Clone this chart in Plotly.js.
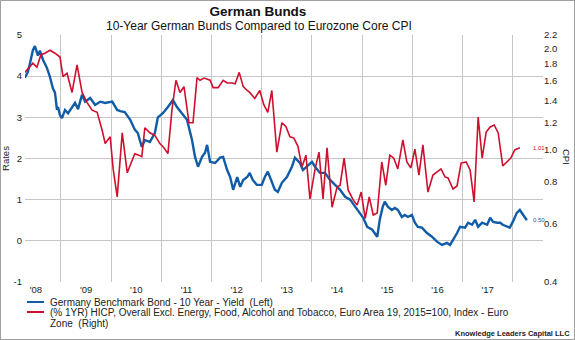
<!DOCTYPE html>
<html>
<head>
<meta charset="utf-8">
<script src="https://cdn.plot.ly/plotly-3.0.1.min.js"></script>
<style>
html,body{margin:0;padding:0;background:#fff;}
#wrap{position:relative;width:575px;height:340px;}
#chart{position:absolute;left:0;top:0;width:575px;height:340px;}
#frame{position:absolute;left:0;top:0;width:575px;height:340px;box-sizing:border-box;border:1px solid #a0a0a0;pointer-events:none;}
</style>
</head>
<body>
<div id="wrap"><div id="chart"></div><div id="frame"></div></div>
<script>
// ---- data (decimal years) ----
const bundYears = [2008.28,2008.34,2008.38,2008.44,2008.48,2008.52,2008.54,2008.58,2008.62,2008.64,2008.68,2008.72,2008.78,2008.84,2008.88,2008.92,2008.94,2008.98,2009.02,2009.08,2009.14,2009.22,2009.28,2009.34,2009.42,2009.48,2009.58,2009.68,2009.78,2009.88,2010.02,2010.12,2010.18,2010.27,2010.38,2010.47,2010.53,2010.61,2010.67,2010.77,2010.87,2010.93,2011.03,2011.13,2011.23,2011.31,2011.41,2011.51,2011.61,2011.67,2011.73,2011.81,2011.87,2011.91,2011.97,2012.07,2012.17,2012.23,2012.31,2012.37,2012.43,2012.51,2012.57,2012.63,2012.71,2012.76,2012.82,2012.90,2013.00,2013.06,2013.12,2013.20,2013.26,2013.32,2013.40,2013.50,2013.60,2013.66,2013.76,2013.82,2013.90,2014.00,2014.06,2014.16,2014.26,2014.36,2014.46,2014.56,2014.66,2014.76,2014.86,2014.96,2015.02,2015.10,2015.20,2015.30,2015.35,2015.41,2015.45,2015.51,2015.59,2015.65,2015.71,2015.79,2015.85,2015.91,2015.99,2016.05,2016.11,2016.19,2016.29,2016.39,2016.49,2016.59,2016.69,2016.75,2016.81,2016.89,2016.95,2017.05,2017.11,2017.19,2017.25,2017.31,2017.39,2017.49,2017.55,2017.61,2017.69,2017.75,2017.80,2017.88,2017.94,2018.00,2018.08,2018.14,2018.20,2018.28];
const bundYield = [3.96,4.10,4.30,4.63,4.73,4.55,4.50,4.62,4.45,4.40,4.30,4.20,3.98,3.70,3.60,3.18,3.25,3.05,2.98,3.18,3.10,3.25,3.35,3.20,3.55,3.38,3.47,3.30,3.38,3.35,3.38,3.18,3.15,3.13,2.94,2.70,2.62,2.28,2.45,2.40,2.62,3.00,3.10,3.25,3.42,3.25,3.10,2.94,2.45,2.04,1.80,2.04,2.14,2.33,1.92,1.89,2.02,2.04,1.72,1.55,1.24,1.55,1.31,1.48,1.55,1.65,1.48,1.36,1.36,1.55,1.68,1.41,1.24,1.19,1.41,1.55,1.80,2.02,1.89,1.72,1.80,1.92,1.80,1.65,1.65,1.48,1.36,1.24,1.07,1.00,0.83,0.66,0.56,0.34,0.27,0.10,0.51,0.83,0.95,0.83,0.75,0.80,0.75,0.58,0.63,0.58,0.63,0.44,0.34,0.32,0.19,0.10,-0.02,-0.10,-0.05,-0.10,0.02,0.19,0.34,0.32,0.44,0.39,0.51,0.34,0.44,0.39,0.56,0.46,0.44,0.44,0.39,0.34,0.32,0.46,0.68,0.75,0.63,0.50];

const cpiYears = [2008.28,2008.36,2008.44,2008.52,2008.60,2008.68,2008.78,2008.88,2008.98,2009.04,2009.12,2009.22,2009.32,2009.42,2009.52,2009.62,2009.72,2009.82,2009.88,2009.98,2010.04,2010.12,2010.22,2010.32,2010.39,2010.47,2010.55,2010.61,2010.67,2010.77,2010.87,2010.97,2011.05,2011.13,2011.21,2011.29,2011.37,2011.45,2011.55,2011.63,2011.71,2011.77,2011.85,2011.91,2011.97,2012.03,2012.13,2012.23,2012.31,2012.41,2012.47,2012.55,2012.63,2012.71,2012.76,2012.86,2012.96,2013.04,2013.12,2013.20,2013.30,2013.40,2013.48,2013.56,2013.64,2013.72,2013.80,2013.88,2013.96,2014.06,2014.14,2014.22,2014.30,2014.40,2014.50,2014.56,2014.64,2014.72,2014.82,2014.90,2014.98,2015.06,2015.14,2015.22,2015.30,2015.39,2015.47,2015.55,2015.63,2015.71,2015.81,2015.89,2015.97,2016.05,2016.13,2016.21,2016.31,2016.41,2016.49,2016.57,2016.65,2016.71,2016.81,2016.89,2016.97,2017.07,2017.15,2017.23,2017.31,2017.39,2017.47,2017.55,2017.63,2017.71,2017.80,2017.88,2017.96,2018.04,2018.14];
const coreCpi = [1.70,1.76,1.81,1.76,1.92,1.94,1.98,1.94,1.89,1.65,1.69,1.48,1.79,1.48,1.38,1.31,1.29,1.14,1.04,1.09,0.87,0.72,1.12,0.85,0.91,0.97,0.96,0.95,1.16,1.12,1.10,1.04,1.01,0.97,1.31,1.61,1.48,1.54,1.20,1.20,1.64,1.61,1.635,1.62,1.61,1.53,1.53,1.61,1.58,1.58,1.57,1.70,1.54,1.50,1.48,1.42,1.50,1.36,1.29,1.50,0.98,1.20,1.17,1.09,1.08,1.02,0.885,0.96,0.71,0.87,0.98,0.71,1.01,0.67,0.77,0.78,0.94,0.755,0.705,0.68,0.744,0.62,0.72,0.635,0.644,0.916,0.78,0.96,0.94,0.873,1.066,0.916,0.879,1.00,0.837,1.03,0.744,0.837,0.855,0.873,0.826,0.82,0.76,0.776,0.909,0.916,0.867,0.695,1.249,0.941,1.126,1.166,1.182,1.119,0.891,0.916,0.941,0.995,1.01];

const yearGrid = [2009,2010,2011,2012,2013,2014,2015,2016,2017,2018];
const yearLabelPos = [2008.5,2009.5,2010.5,2011.5,2012.5,2013.5,2014.5,2015.5,2016.5,2017.5];
const yearLabels = ["'08","'09","'10","'11","'12","'13","'14","'15","'16","'17"];
const rateTicks = [-1,0,1,2,3,4,5];
const rateTickText = ['-1','0','1','2','3','4','5'];
const cpiTicks = [0.4,0.6,0.8,1.0,1.2,1.4,1.6,1.8,2.0,2.2];
const cpiTickText = ['0.4','0.6','0.8','1.0','1.2','1.4','1.6','1.8','2.0','2.2'];

const legendBond = 'Germany Benchmark Bond - 10 Year - Yield \u00a0(Left)';
const legendCpi1 = '(% 1YR) HICP, Overall Excl. Energy, Food, Alcohol and Tobacco, Euro Area 19, 2015=100, Index - Euro';
const legendCpi2 = 'Zone \u00a0(Right)';

const BLUE = '#105ca6';
const RED = '#cf0f2e';
const GRID = '#c6c6c6';
const FONT = 'Arial, "Liberation Sans", sans-serif';
const xRange = [2008.283, 2018.602];

const lastBond = bundYield[bundYield.length-1];
const lastCpi = coreCpi[coreCpi.length-1];

const traces = [
  {x: bundYears, y: bundYield, type:'scatter', mode:'lines', xaxis:'x', yaxis:'y',
   line:{color:BLUE, width:2.4}, name:'Germany Benchmark Bond - 10 Year - Yield (Left)', hoverinfo:'skip'},
  {x: cpiYears, y: coreCpi, type:'scatter', mode:'lines', xaxis:'x2', yaxis:'y2',
   line:{color:RED, width:1.6}, name:'Core HICP (Right)', hoverinfo:'skip'}
];

function px(v){ return (v-25)/518; }
function py(v){ return (282-v)/247; }

const layout = {
  width:575, height:340,
  margin:{l:25, r:32, t:35, b:58, pad:0},
  paper_bgcolor:'#ffffff', plot_bgcolor:'#ffffff',
  font:{family:FONT, size:10, color:'#222'},
  showlegend:false,
  hovermode:false,
  title:{text:'<b>German Bunds</b>', font:{family:FONT, size:13.5, color:'#111'},
         xref:'container', x:258/575, xanchor:'center', yref:'container', y:1-11/340, yanchor:'middle'},
  xaxis:{range:xRange, tickvals:yearGrid, showticklabels:false, showgrid:true, gridcolor:GRID, gridwidth:1,
         zeroline:false, showline:false, ticks:''},
  xaxis2:{overlaying:'x', anchor:'y', side:'bottom', range:xRange, tickvals:yearLabelPos, ticktext:yearLabels,
          showgrid:false, zeroline:false, showline:false, ticks:'', tickfont:{family:FONT, size:9.5, color:'#222'}},
  yaxis:{range:[-1,5], tickvals:rateTicks, ticktext:rateTickText, showgrid:true, gridcolor:GRID, gridwidth:1,
         zeroline:false, showline:false, ticks:'', ticklabelstandoff:2, tickfont:{family:FONT, size:9.5, color:'#222'},
         title:{text:'Rates', font:{family:FONT, size:9.5, color:'#222'}, standoff:5}},
  yaxis2:{overlaying:'y', anchor:'x', side:'right', type:'log', range:[Math.log10(0.4), Math.log10(2.2)],
          tickvals:cpiTicks, ticktext:cpiTickText, showgrid:false, zeroline:false, showline:false, ticks:'',
          tickfont:{family:FONT, size:9.5, color:'#222'}},
  shapes:[
    {type:'line', xref:'paper', yref:'paper', x0:px(27), x1:px(44), y0:py(302), y1:py(302), line:{color:BLUE, width:2}},
    {type:'line', xref:'paper', yref:'paper', x0:px(27), x1:px(44), y0:py(312), y1:py(312), line:{color:RED, width:2}}
  ],
  annotations:[
    {text:'10-Year German Bunds Compared to Eurozone Core CPI', xref:'paper', yref:'paper', x:px(259), y:py(26),
     xanchor:'center', yanchor:'middle', showarrow:false, font:{family:FONT, size:12, color:'#111'}},
    {text:'CPI', xref:'paper', yref:'paper', x:px(567), y:py(157), textangle:90, xanchor:'center', yanchor:'middle',
     showarrow:false, font:{family:FONT, size:9.5, color:'#222'}},
    {text:legendBond, xref:'paper', yref:'paper', x:px(48), y:py(302), xanchor:'left', yanchor:'middle',
     showarrow:false, font:{family:FONT, size:10, color:'#222'}},
    {text:legendCpi1, xref:'paper', yref:'paper', x:px(48), y:py(312.5), xanchor:'left', yanchor:'middle',
     showarrow:false, font:{family:FONT, size:10, color:'#222'}},
    {text:legendCpi2, xref:'paper', yref:'paper', x:px(48), y:py(323.5), xanchor:'left', yanchor:'middle',
     showarrow:false, font:{family:FONT, size:10, color:'#222'}},
    {text:'<b>Knowledge Leaders Capital LLC</b>', xref:'paper', yref:'paper', x:px(572), y:py(333), xanchor:'right', yanchor:'middle',
     showarrow:false, font:{family:FONT, size:7.5, color:'#222'}},
    {text:lastCpi.toFixed(2), xref:'paper', yref:'y2', x:px(531), y:Math.log10(lastCpi), xanchor:'left', yanchor:'middle',
     showarrow:false, font:{family:FONT, size:6, color:RED}},
    {text:lastBond.toFixed(2), xref:'paper', yref:'y', x:px(531), y:lastBond, xanchor:'left', yanchor:'middle',
     showarrow:false, font:{family:FONT, size:6, color:BLUE}}
  ]
};

Plotly.newPlot('chart', traces, layout, {staticPlot:true, displayModeBar:false});
</script>
</body>
</html>
